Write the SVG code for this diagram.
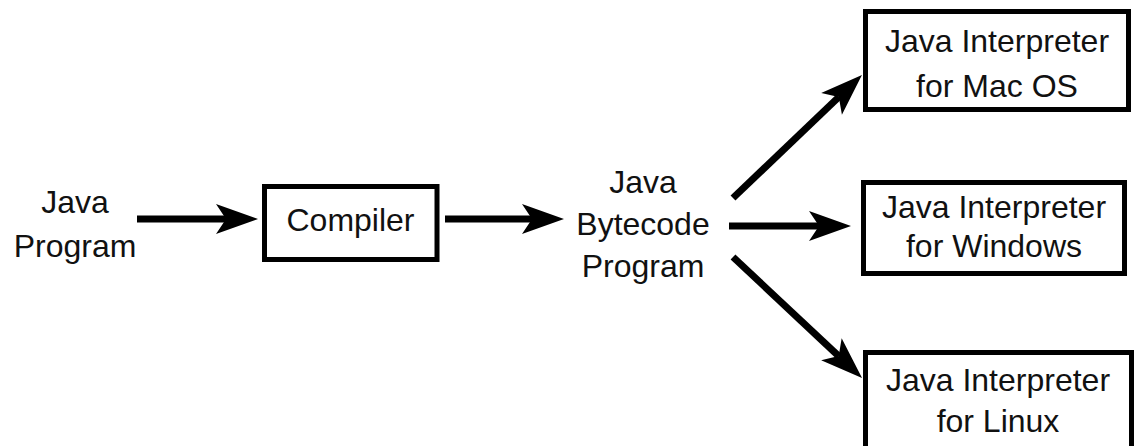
<svg xmlns="http://www.w3.org/2000/svg" width="1134" height="446" viewBox="0 0 1134 446">
<style>
  .box { fill: #fff; stroke: #000; stroke-width: 5; }
  .t { font-family: "Liberation Sans", Arial, sans-serif; font-size: 32px; fill: #111; text-anchor: middle; }
  .c { stroke: #000; stroke-width: 7; fill: none; marker-end: url(#ah); }
</style>
<defs>
  <marker id="ah" markerUnits="userSpaceOnUse" viewBox="-12 -17 46 34" refX="0" refY="0" markerWidth="46" markerHeight="34" orient="auto">
    <path d="M32,0 L-10,-15 L0,0 L-10,15 Z" fill="#000"/>
  </marker>
</defs>
<rect width="1134" height="446" fill="#fff"/>
<g id="connectors">
  <path class="c" d="M137,219 L226,219"/>
  <path class="c" d="M445,219 L532,219"/>
  <path class="c" d="M729,226 L819,226"/>
  <path class="c" d="M733,198 L838.8,97"/>
  <path class="c" d="M733,257 L838.7,356.1"/>
</g>
<g id="java-program">
  <text class="t" x="75" y="213">Java</text>
  <text class="t" x="75" y="257">Program</text>
</g>
<g id="compiler">
  <rect class="box" x="264.5" y="186.5" width="172.5" height="73"/>
  <text class="t" x="350.5" y="231">Compiler</text>
</g>
<g id="bytecode">
  <text class="t" x="643" y="193">Java</text>
  <text class="t" x="643" y="235">Bytecode</text>
  <text class="t" x="643" y="277">Program</text>
</g>
<g id="mac">
  <rect class="box" x="865.5" y="11.5" width="263" height="98"/>
  <text class="t" x="997" y="52">Java Interpreter</text>
  <text class="t" x="997" y="97">for Mac OS</text>
</g>
<g id="windows">
  <rect class="box" x="863.5" y="182.5" width="261" height="91"/>
  <text class="t" x="994" y="218">Java Interpreter</text>
  <text class="t" x="994" y="257">for Windows</text>
</g>
<g id="linux">
  <rect class="box" x="865.5" y="352.5" width="266" height="120"/>
  <text class="t" x="998" y="391">Java Interpreter</text>
  <text class="t" x="998" y="432">for Linux</text>
</g>
</svg>
